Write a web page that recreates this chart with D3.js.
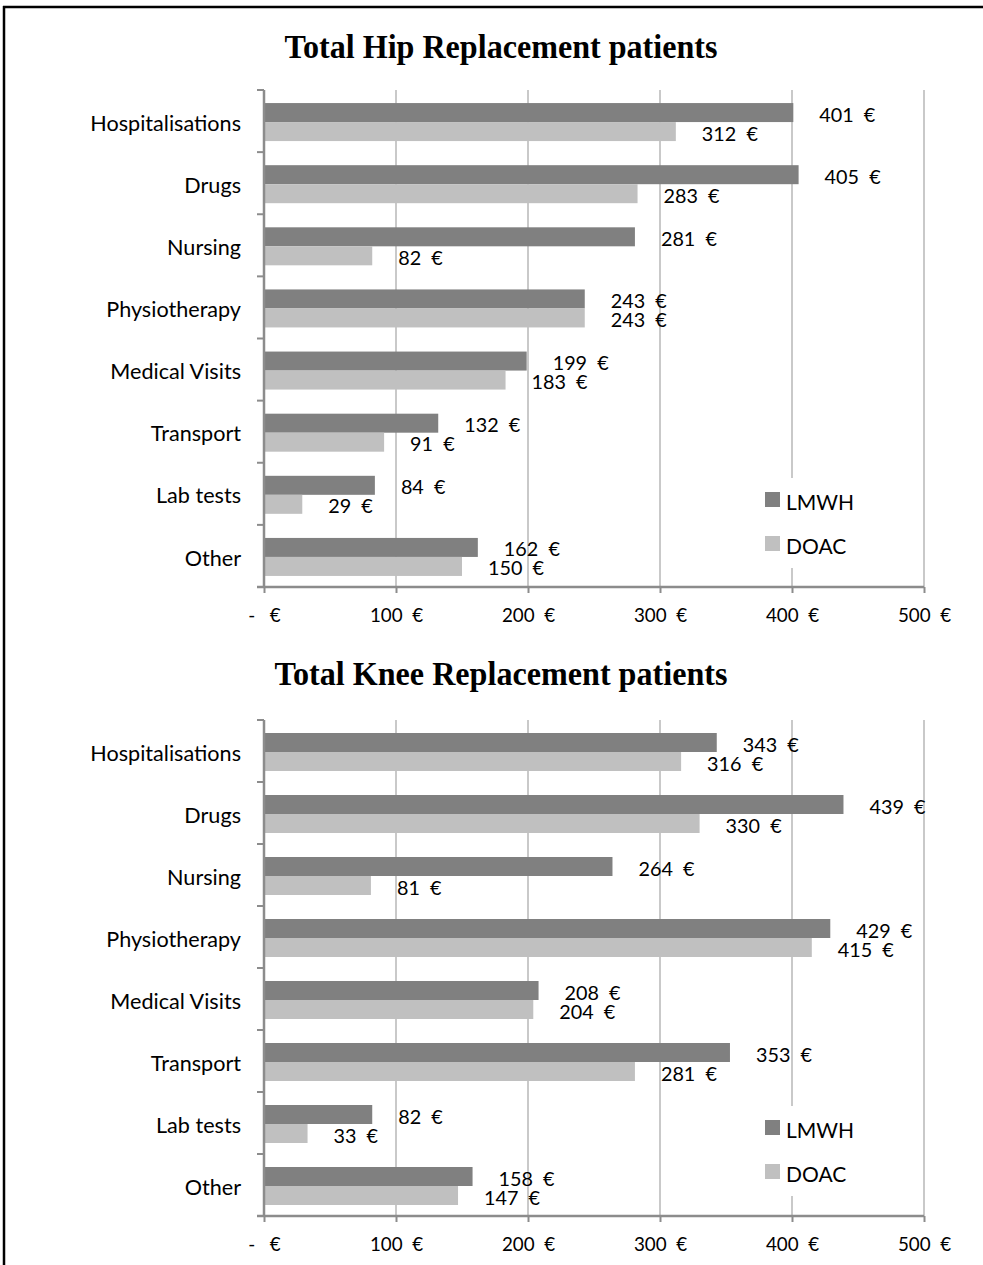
<!DOCTYPE html>
<html><head><meta charset="utf-8">
<script src="https://cdn.jsdelivr.net/npm/d3@7"></script>
<style>body{margin:0;background:#fff} svg text{white-space:pre}</style>
</head><body><svg id="c" width="983" height="1265"></svg>
<script>
const categories = ["Hospitalisations","Drugs","Nursing","Physiotherapy","Medical Visits","Transport","Lab tests","Other"];
const series = ["LMWH","DOAC"];
const hipLMWH = [401,405,281,243,199,132,84,162];
const hipDOAC = [312,283,82,243,183,91,29,150];
const kneeLMWH = [343,439,264,429,208,353,82,158];
const kneeDOAC = [316,330,81,415,204,281,33,147];
const xTickValues = [0,100,200,300,400,500];
const titles = ["Total Hip Replacement patients","Total Knee Replacement patients"];
const colors = {LMWH:"#808080", DOAC:"#c0c0c0"};

const FONT = "Lato, 'Open Sans', sans-serif";
const svg = d3.select("#c");
svg.append("rect").attr("width",983).attr("height",1265).attr("fill","#fff");
svg.append("line").attr("x1",3).attr("x2",983).attr("y1",7).attr("y2",7).attr("stroke","#000").attr("stroke-width",2.5);
svg.append("line").attr("x1",4).attr("x2",4).attr("y1",6).attr("y2",1265).attr("stroke","#000").attr("stroke-width",2.5);

function fmt(d){ return d===0 ? "-   €" : d + "  €"; }

function panel(cfg){
  const x = d3.scaleLinear().domain([0,500]).range([264,924]);
  const y = d3.scaleBand().domain(categories).range([cfg.top, cfg.bottom]);
  const barBlock = 38;
  const sub = d3.scaleBand().domain(series).range([0, barBlock]);
  const g = svg.append("g");

  g.append("text").attr("x",501).attr("y",cfg.titleY).attr("text-anchor","middle")
    .attr("font-family","'Liberation Serif','Times New Roman',serif").attr("font-weight","bold")
    .attr("font-size",33).attr("textLength",cfg.titleW).attr("lengthAdjust","spacingAndGlyphs")
    .text(cfg.title);

  // gridlines
  g.selectAll("line.grid").data(xTickValues.slice(1)).join("line").attr("class","grid")
    .attr("x1",d=>x(d)).attr("x2",d=>x(d)).attr("y1",cfg.top).attr("y2",cfg.bottom)
    .attr("stroke","#c9c9c9").attr("stroke-width",2);

  const rows = categories.map((c,i)=>({cat:c, LMWH:cfg.lmwh[i], DOAC:cfg.doac[i]}));
  const off = (y.bandwidth()-barBlock)/2 + 1;
  series.forEach(s=>{
    g.selectAll("rect.b"+s).data(rows).join("rect").attr("class","b"+s)
      .attr("x",x(0)).attr("y",d=>y(d.cat)+off+sub(s))
      .attr("width",d=>x(d[s])-x(0)).attr("height",sub.bandwidth())
      .attr("fill",colors[s]);
    g.selectAll("text.l"+s).data(rows).join("text").attr("class","l"+s)
      .attr("x",d=>x(d[s])+26).attr("y",d=>y(d.cat)+off+sub(s)+sub.bandwidth()/2+1)
      .attr("dominant-baseline","central")
      .attr("font-family",FONT).attr("font-size",19.8).attr("fill","#000")
      .text(d=>d[s]+"  €");
  });

  // x axis
  const xa = g.append("g").attr("transform",`translate(0,${cfg.bottom})`)
    .call(d3.axisBottom(x).tickValues(xTickValues).tickFormat(fmt).tickSize(6).tickSizeOuter(0));
  xa.select(".domain").attr("stroke","#8c8c8c").attr("stroke-width",2.5).attr("d",`M257,0H924`);
  xa.selectAll(".tick line").attr("stroke","#8c8c8c").attr("stroke-width",2);
  xa.selectAll(".tick text").attr("y",27).attr("dy",null).attr("dominant-baseline","central")
    .attr("font-family",FONT).attr("font-size",18.8).attr("fill","#000");

  // category axis
  const ya = g.append("g").attr("transform",`translate(${x(0)},0)`)
    .call(d3.axisLeft(y).tickSize(0).tickPadding(23));
  ya.select(".domain").attr("stroke","#8c8c8c").attr("stroke-width",2.5).attr("d",`M0,${cfg.top}V${cfg.bottom}`);
  ya.selectAll(".tick text").attr("font-family",FONT).attr("font-size",21.6).attr("fill","#000")
    .attr("dy","0.35em").attr("y",2);
  const bounds = categories.map(c=>y(c)).concat([cfg.bottom]);
  g.selectAll("line.ct").data(bounds).join("line").attr("class","ct")
    .attr("x1",x(0)-7).attr("x2",x(0)).attr("y1",d=>d).attr("y2",d=>d)
    .attr("stroke","#8c8c8c").attr("stroke-width",2);

  // legend
  const lg = g.append("g");
  lg.append("rect").attr("x",756).attr("y",cfg.legendY-22).attr("width",110).attr("height",90).attr("fill","#fff");
  series.forEach((s,i)=>{
    const cy = cfg.legendY + i*44;
    lg.append("rect").attr("x",765).attr("y",cy-8).attr("width",15).attr("height",15).attr("fill",colors[s]);
    lg.append("text").attr("x",786).attr("y",cy+1).attr("dominant-baseline","central")
      .attr("font-family",FONT).attr("font-size",21).attr("fill","#000").text(s);
  });
}

panel({top:90, bottom:587, title:titles[0], titleY:58, titleW:433, lmwh:hipLMWH, doac:hipDOAC, legendY:500});
panel({top:720, bottom:1216, title:titles[1], titleY:685, titleW:453, lmwh:kneeLMWH, doac:kneeDOAC, legendY:1128});
</script></body></html>
